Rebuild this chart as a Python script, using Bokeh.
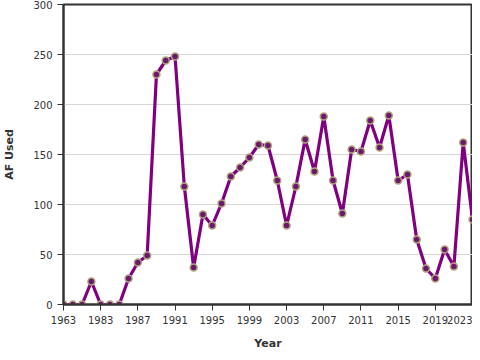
from bokeh.plotting import figure
from bokeh.models import Range1d, FixedTicker, ColumnDataSource
from bokeh.embed import file_html
from bokeh.resources import INLINE

years = ["1963", "1972", "1977", "1982", "1983", "1984", "1985", "1986", "1987", "1988",
         "1989", "1990", "1991", "1992", "1993", "1994", "1995", "1996", "1997", "1998",
         "1999", "2000", "2001", "2002", "2003", "2004", "2005", "2006", "2007", "2008",
         "2009", "2010", "2011", "2012", "2013", "2014", "2015", "2016", "2017", "2018",
         "2019", "2020", "2021", "2022", "2023"]
af_used = [0, 0, 0, 23, 0, 0, 0, 26, 42, 49,
           230, 244, 248, 118, 37, 90, 79, 101, 128, 137,
           147, 160, 159, 124, 79, 118, 165, 133, 188, 124,
           91, 155, 153, 184, 157, 189, 124, 130, 65, 36,
           26, 55, 38, 162, 85]
y_ticks = [0, 50, 100, 150, 200, 250, 300]

idx = list(range(len(years)))
src = ColumnDataSource(dict(x=idx, y=af_used, year=years))

p = figure(width=472, height=352, output_backend="svg", toolbar_location=None,
           x_range=Range1d(0, len(years) - 1), y_range=Range1d(0, 300),
           min_border_left=55, min_border_right=0, min_border_top=4, min_border_bottom=2)

p.line("x", "y", source=src, line_color="#800080", line_width=3.2)
p.scatter("x", "y", source=src, size=7, fill_color="#6b1a6b", line_color="#b0a27e", line_width=1.5)

tick_idx = idx[::4]
p.xaxis.ticker = FixedTicker(ticks=tick_idx)
p.xaxis.major_label_overrides = {i: years[i] for i in tick_idx}
p.yaxis.ticker = FixedTicker(ticks=y_ticks)

p.xaxis.axis_label = "Year"
p.yaxis.axis_label = "AF Used"
for ax in (p.xaxis, p.yaxis):
    ax.axis_label_text_font = "DejaVu Sans"
    ax.axis_label_text_font_style = "bold"
    ax.axis_label_text_font_size = "11px"
    ax.axis_label_text_color = "#333333"
    ax.major_label_text_font = "DejaVu Sans"
    ax.major_label_text_font_size = "10px"
    ax.major_label_text_color = "#333333"
    ax.axis_line_color = "#333333"
    ax.axis_line_width = 2
    ax.major_tick_line_color = "#333333"
    ax.major_tick_line_width = 1
    ax.major_tick_in = 0
    ax.major_tick_out = 6
    ax.minor_tick_line_color = None
p.yaxis.axis_label_standoff = 14
p.xaxis.axis_label_standoff = 10

p.xgrid.grid_line_color = None
p.ygrid.grid_line_color = "#d6d6d6"
p.ygrid.grid_line_width = 1
p.outline_line_color = "#333333"
p.outline_line_width = 2
p.background_fill_color = "white"
p.border_fill_color = "white"

open("out.html", "w").write(file_html(p, INLINE))
